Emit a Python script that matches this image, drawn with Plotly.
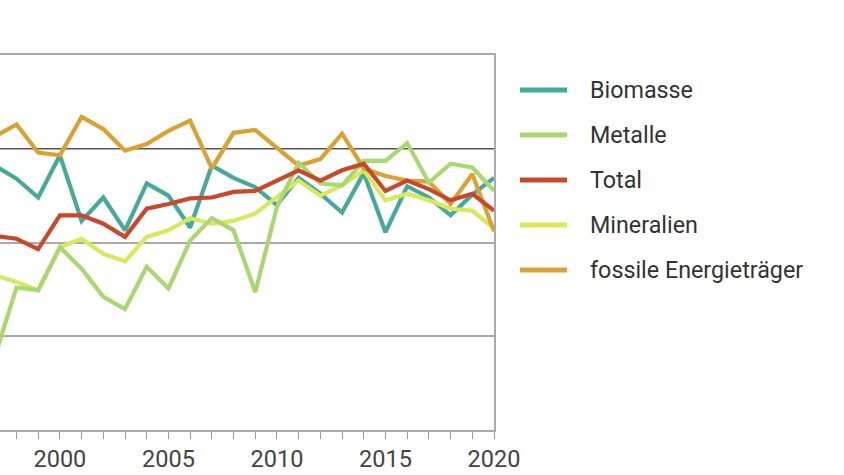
import plotly.graph_objects as go

years = list(range(1997, 2021))

biomasse = [98.2, 96.8, 94.8, 99.3, 92.3, 94.8, 91.3, 96.3, 95.0, 91.6, 98.2, 96.9,
            95.9, 94.0, 96.9, 95.2, 93.2, 97.4, 91.1, 96.0, 94.8, 92.9, 95.1, 96.9]
metalle = [77.8, 85.2, 84.9, 89.5, 87.2, 84.2, 82.9, 87.4, 85.1, 90.2, 92.6, 91.3,
           84.7, 93.8, 98.5, 96.3, 96.1, 98.7, 98.7, 100.6, 96.4, 98.4, 98.0, 95.5]
total = [90.7, 90.4, 89.3, 92.9, 92.9, 92.0, 90.6, 93.6, 94.1, 94.7, 94.8, 95.4,
         95.5, 96.6, 97.7, 96.6, 97.7, 98.4, 95.5, 96.6, 95.7, 94.5, 95.2, 93.4]
mineralien = [86.5, 85.8, 84.9, 89.5, 90.4, 88.8, 88.0, 90.6, 91.3, 92.6, 92.0, 92.3,
              93.1, 94.8, 96.6, 95.0, 96.1, 97.7, 94.5, 95.2, 94.5, 93.6, 93.4, 91.5]
fossile = [101.3, 102.6, 99.6, 99.3, 103.4, 102.1, 99.8, 100.5, 101.9, 103.0, 97.9, 101.7,
           102.0, 100.1, 98.2, 98.9, 101.6, 97.9, 97.1, 96.6, 96.5, 94.1, 97.3, 91.2]

series_names = ["Biomasse", "Metalle", "Total", "Mineralien", "fossile Energieträger"]
series_values = [biomasse, metalle, total, mineralien, fossile]
series_colors = ["#45a99b", "#a9d870", "#c9482a", "#d9e85c", "#d9a232"]
draw_order = [0, 3, 4, 1, 2]

x_range = [1997.24, 2020]
y_range = [70, 110]
grid_values = [80, 90]
reference_value = 100
tick_years = [2000, 2005, 2010, 2015, 2020]

fig = go.Figure()
for i in draw_order:
    fig.add_trace(go.Scatter(
        x=years, y=series_values[i], mode="lines", name=series_names[i],
        line=dict(color=series_colors[i], width=4.2), showlegend=False,
    ))

# reference line
fig.add_shape(type="line", xref="paper", x0=0, x1=1, yref="y",
              y0=reference_value, y1=reference_value,
              line=dict(color="#555555", width=1.5), layer="below")

# manual legend
leg_y = [0.9067, 0.7867, 0.6667, 0.5467, 0.4267]
for name, color, yy in zip(series_names, series_colors, leg_y):
    fig.add_shape(type="line", xref="paper", yref="paper",
                  x0=1.0526, x1=1.1478, y0=yy, y1=yy,
                  line=dict(color=color, width=5))
    fig.add_annotation(xref="paper", yref="paper", x=1.1903, y=yy,
                       text=name, showarrow=False, xanchor="left", yanchor="middle",
                       font=dict(family="Roboto", size=23.3, color="#333333"))

fig.update_layout(
    width=844, height=475,
    margin=dict(l=0, r=350, t=55, b=45),
    plot_bgcolor="white", paper_bgcolor="white",
    font=dict(family="Roboto", size=23.5, color="#444444"),
    showlegend=False,
    xaxis=dict(range=x_range, tickvals=tick_years, ticks="outside", ticklen=7,
               tickcolor="#999999", showline=True, linecolor="#aaaaaa", linewidth=1.5,
               mirror=True, showgrid=False, zeroline=False,
               minor=dict(dtick=1, ticks="outside", ticklen=7, tickcolor="#999999"),
               tickfont=dict(family="Roboto", size=23.5, color="#444444")),
    yaxis=dict(range=y_range, tickvals=grid_values, showticklabels=False,
               showgrid=True, gridcolor="#aaaaaa", gridwidth=1.5,
               side="right", showline=True, linecolor="#aaaaaa", linewidth=1.5,
               zeroline=False, ticks=""),
)

fig.write_html("out.html", config={"displayModeBar": False},
               post_script="document.body.style.margin='0';document.body.style.overflow='hidden';")
